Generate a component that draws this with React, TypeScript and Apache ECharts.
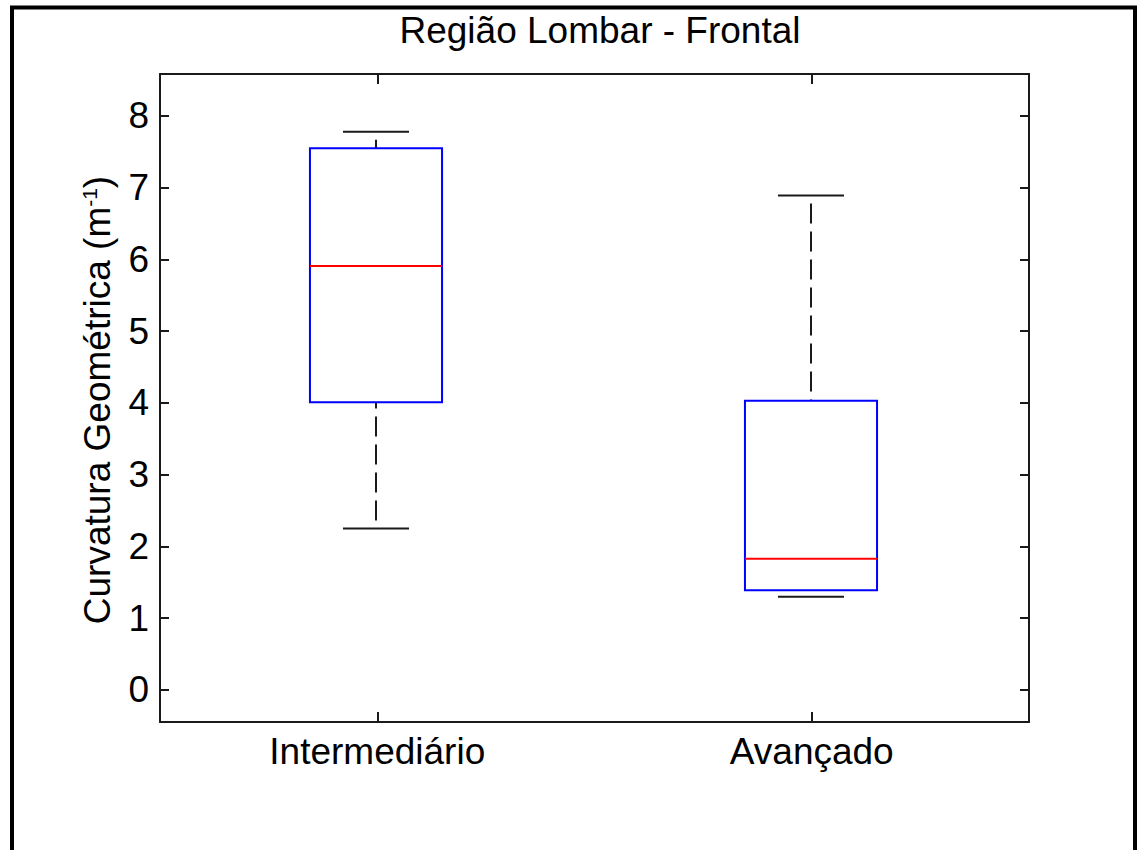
import React, { useEffect, useRef } from "react";
import * as echarts from "echarts";

// Box-plot statistics per training level (curvature in 1/m)
const groups = ["Intermediário", "Avançado"];
const whiskerLow = [2.25, 1.3];
const q1 = [4.01, 1.39];
const median = [5.91, 1.83];
const q3 = [7.55, 4.03];
const whiskerHigh = [7.78, 6.89];

const yMin = -0.446;
const yMax = 8.585;

const FONT = "'Liberation Sans', Arial, Helvetica, sans-serif";
const FS = 37;
const INK = "#1a1a1a";

export default function App() {
  const ref = useRef<HTMLDivElement>(null);

  useEffect(() => {
    document.body.style.margin = "0";
    const chart = echarts.init(ref.current!, null, { renderer: "svg" });

    const data = groups.map((_, i) => [
      i,
      whiskerLow[i],
      q1[i],
      median[i],
      q3[i],
      whiskerHigh[i],
    ]);

    const axisLine = { show: true, onZero: false, lineStyle: { color: INK, width: 2 } };
    const xTick = {
      show: true,
      inside: true,
      length: 10,
      alignWithLabel: true,
      lineStyle: { color: INK, width: 2 },
    };
    const yTick = {
      show: true,
      inside: true,
      length: 9,
      lineStyle: { color: INK, width: 2 },
    };

    const option: any = {
      animation: false,
      backgroundColor: "#ffffff",
      grid: {
        left: 160,
        right: 110,
        top: 74,
        bottom: 128,
        containLabel: false,
        outerBoundsMode: "none",
      },
      graphic: [
        {
          type: "rect",
          shape: { x: 12, y: 7.5, width: 1123, height: 900 },
          style: { fill: "none", stroke: "#000", lineWidth: 4 },
          silent: true,
        },
        {
          type: "text",
          x: 600,
          y: 30,
          style: {
            text: "Região Lombar - Frontal",
            font: `${FS}px ${FONT}`,
            fill: "#000",
            align: "center",
            verticalAlign: "middle",
          },
        },
        {
          type: "text",
          x: 97,
          y: 400,
          rotation: Math.PI / 2,
          style: {
            text: "Curvatura Geométrica (m{sup|-1})",
            font: `${FS}px ${FONT}`,
            fill: "#000",
            align: "center",
            verticalAlign: "middle",
            rich: {
              sup: {
                fontSize: 21,
                fontFamily: FONT,
                fill: "#000",
                verticalAlign: "top",
              },
            },
          },
        },
      ],
      xAxis: [
        {
          type: "category",
          data: groups,
          position: "bottom",
          axisLine,
          axisTick: xTick,
          axisLabel: {
            color: "#000",
            fontSize: FS,
            fontFamily: FONT,
            margin: 11,
          },
          splitLine: { show: false },
        },
        {
          type: "category",
          data: groups,
          position: "top",
          axisLine,
          axisTick: xTick,
          axisLabel: { show: false },
          splitLine: { show: false },
        },
      ],
      yAxis: [
        {
          type: "value",
          position: "left",
          min: yMin,
          max: yMax,
          splitNumber: 9,
          axisLine,
          axisTick: yTick,
          axisLabel: {
            color: "#000",
            fontSize: FS,
            fontFamily: FONT,
            margin: 11,
            showMinLabel: false,
            showMaxLabel: false,
            formatter: (v: number) =>
              Math.abs(v - Math.round(v)) < 1e-6 ? String(Math.round(v)) : "",
          },
          splitLine: { show: false },
        },
        {
          type: "value",
          position: "right",
          min: yMin,
          max: yMax,
          splitNumber: 9,
          axisLine,
          axisTick: yTick,
          axisLabel: { show: false },
          splitLine: { show: false },
        },
      ],
      series: [
        {
          type: "custom",
          xAxisIndex: 0,
          yAxisIndex: 0,
          encode: { x: 0, y: [1, 2, 3, 4, 5] },
          data,
          renderItem: (_params: any, api: any) => {
            const idx = api.value(0);
            const pLow = api.coord([idx, api.value(1)]);
            const pQ1 = api.coord([idx, api.value(2)]);
            const pMed = api.coord([idx, api.value(3)]);
            const pQ3 = api.coord([idx, api.value(4)]);
            const pHigh = api.coord([idx, api.value(5)]);
            const band = api.size([1, 0])[0];
            const boxW = band * 0.304;
            const capW = boxW / 2;
            const cx = Math.round(pLow[0]) - 1;
            const whiskerStyle = {
              stroke: INK,
              lineWidth: 2,
              lineDash: [20, 8],
              lineDashOffset: 20,
              fill: "none",
            };
            const capStyle = { stroke: INK, lineWidth: 2, fill: "none" };
            return {
              type: "group",
              children: [
                {
                  type: "line",
                  shape: { x1: cx, y1: pHigh[1], x2: cx, y2: pQ3[1] },
                  style: whiskerStyle,
                },
                {
                  type: "line",
                  shape: { x1: cx, y1: pLow[1], x2: cx, y2: pQ1[1] },
                  style: whiskerStyle,
                },
                {
                  type: "line",
                  shape: { x1: cx - capW / 2, y1: pHigh[1], x2: cx + capW / 2, y2: pHigh[1] },
                  style: capStyle,
                },
                {
                  type: "line",
                  shape: { x1: cx - capW / 2, y1: pLow[1], x2: cx + capW / 2, y2: pLow[1] },
                  style: capStyle,
                },
                {
                  type: "rect",
                  shape: {
                    x: cx - boxW / 2,
                    y: pQ3[1],
                    width: boxW,
                    height: pQ1[1] - pQ3[1],
                  },
                  style: { fill: "none", stroke: "#0000ff", lineWidth: 2 },
                },
                {
                  type: "line",
                  shape: { x1: cx - boxW / 2, y1: pMed[1], x2: cx + boxW / 2, y2: pMed[1] },
                  style: { stroke: "#ff0000", lineWidth: 2, fill: "none" },
                },
              ],
            };
          },
        },
      ],
    };

    chart.setOption(option);
    return () => chart.dispose();
  }, []);

  return <div ref={ref} style={{ width: 1139, height: 850 }} />;
}
